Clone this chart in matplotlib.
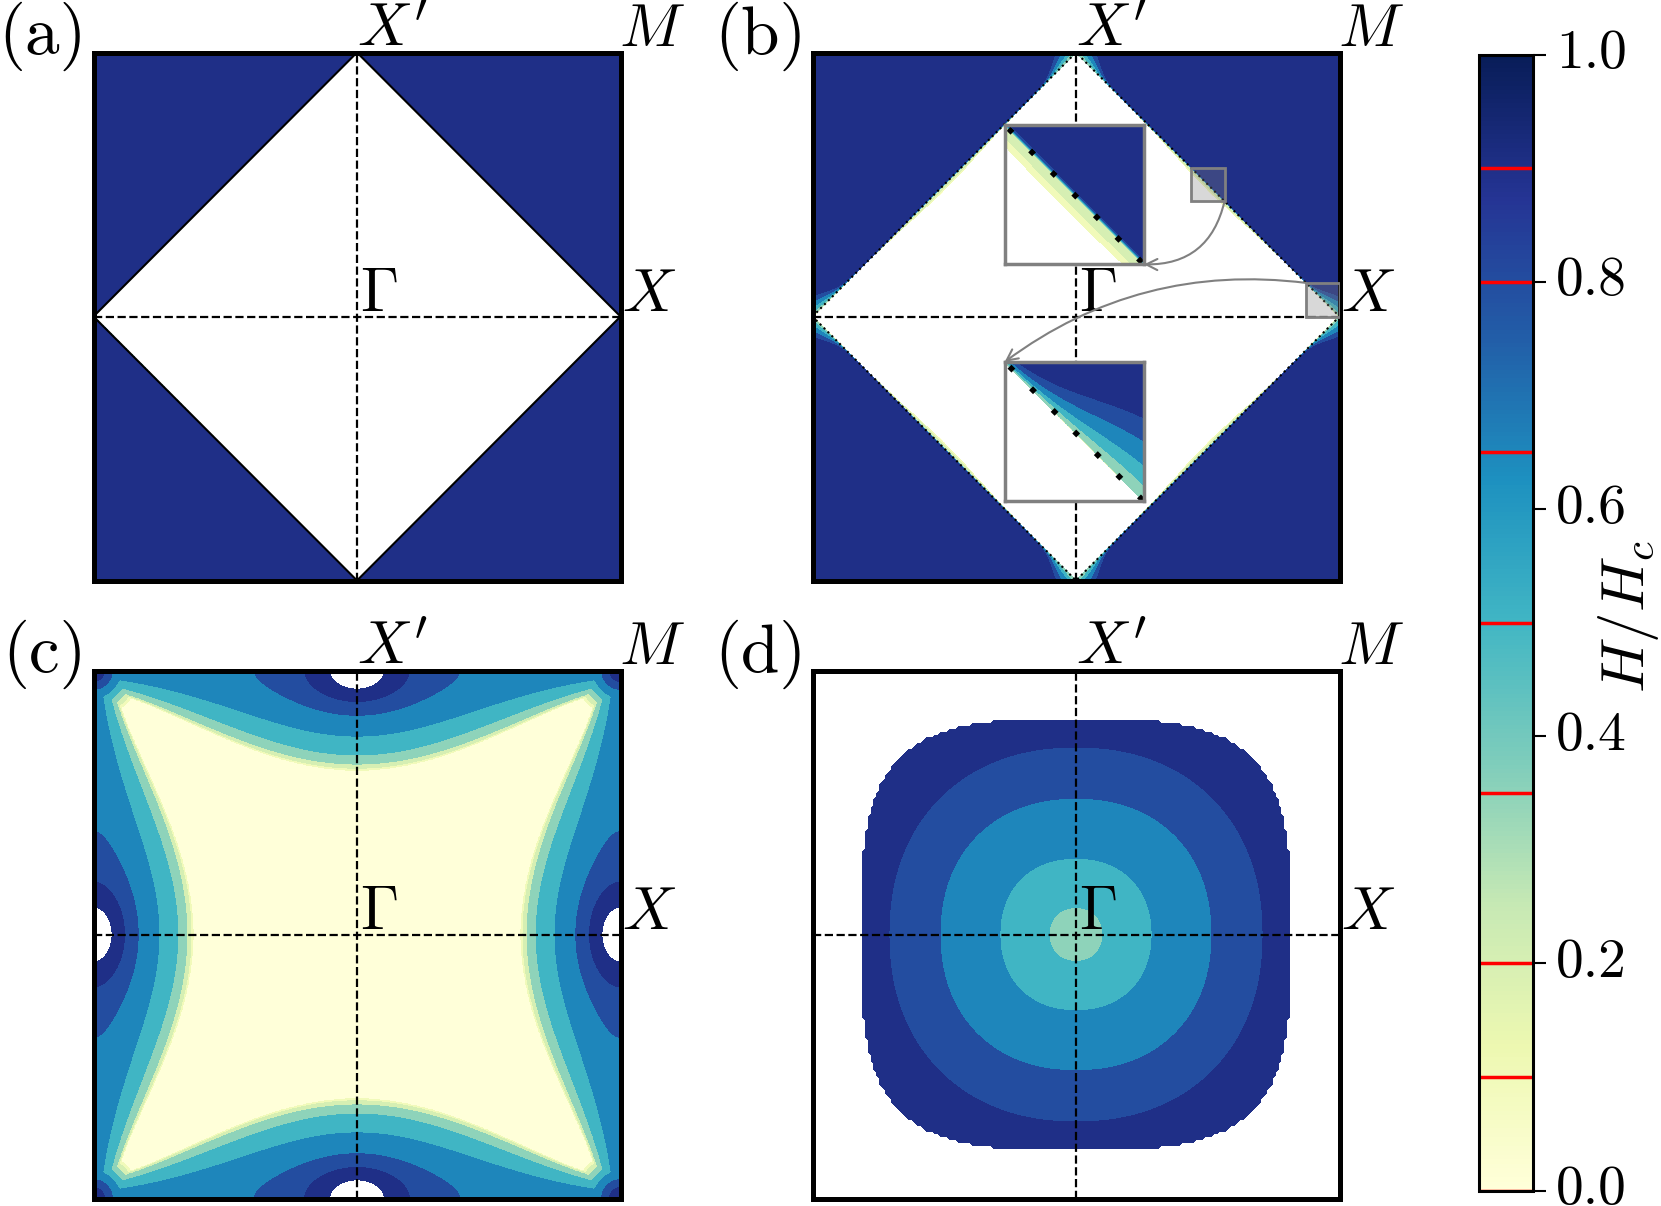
import numpy as np
import matplotlib
matplotlib.use('Agg')
import matplotlib.pyplot as plt
from matplotlib.patches import Rectangle
from matplotlib.colors import Normalize
from matplotlib.cm import ScalarMappable

plt.rcParams['font.family'] = 'serif'
plt.rcParams['font.serif'] = ['cmr10']
plt.rcParams['mathtext.fontset'] = 'cm'
plt.rcParams['axes.unicode_minus'] = False

pi = np.pi

# contour levels of H/Hc (red lines on the colorbar)
levels = [0.0, 0.1, 0.2, 0.35, 0.5, 0.65, 0.8, 0.9, 1.0]
cbar_ticks = [0.0, 0.2, 0.4, 0.6, 0.8, 1.0]
cbar_ticklabels = ['0.0', '0.2', '0.4', '0.6', '0.8', '1.0']
panel_names = ['(a)', '(b)', '(c)', '(d)']
point_names = [r'$X^\prime$', r'$M$', r'$X$', r'$\Gamma$']
point_kx = [0.0, pi, pi, 0.0]
point_ky = [pi, pi, 0.0, 0.0]

# (a): flat value outside the diamond |kx|+|ky| = pi
a_outer = 0.95

# (b): same, with thin crossover near the diamond edge
b_outer = 0.95
b_drop = 0.6
b_wout = [0.006, 0.16, 0.1]
b_in = [0.34, 0.24, 0.1]
b_win = [0.065, 2.22, 0.8]
inset_view = [[pi / 2 - 0.2, pi / 2 + 0.2, pi / 2 - 0.2, pi / 2 + 0.2],
              [pi - 0.4, pi, 0.0, 0.4]]
inset_box = [[-0.85, 0.62, 1.66, 1.66],
             [-0.85, -2.20, 1.66, 1.66]]

# (c): high near X points, flat low centre
c_A = [0.70, 0.10, 2.0]        # edge level along the zone boundary
c_D = [0.2, 0.97, 0.7]         # depth of the low plateau edge
c_F = [0.55, 1.02, 0.1]        # curvature, cutoff, cutoff width
c_B = [0.40, 0.48, 0.36]       # peak at X: height, width along edge, depth
c_q = 6
c_M = [0.97, 0.2, 2.5]         # small peak at M

# (d): bowl around Gamma, masked outside a rounded square
d_coef = [0.408, 0.2987, -0.035]
d_n = 2.2
d_mask_r = 2.58
d_mask_n = 3.4

cmap = plt.get_cmap('YlGnBu')
band_colors = [cmap(l) for l in levels[:-1]]


def field_a(KX, KY):
    d = np.abs(KX) + np.abs(KY) - pi
    return np.where(d > 0, a_outer, -1.0)


def field_b(KX, KY):
    d = np.abs(KX) + np.abs(KY) - pi
    rx2 = np.minimum((pi - np.abs(KX))**2 + KY**2, KX**2 + (pi - np.abs(KY))**2)
    rx = np.sqrt(rx2)
    w_out = b_wout[0] + b_wout[1] * np.exp(-rx2 / b_wout[2])
    w_in = b_win[0] * np.exp(-((rx - b_win[1]) / b_win[2])**2) + 1e-4
    out = b_outer - b_drop * np.exp(-np.clip(d, 0, None) / w_out)
    inn = b_in[0] - b_in[1] * np.clip(-d, 0, None) / w_in
    inn = np.where(inn < b_in[2], -1.0, inn)
    return np.where(d > 0, out, inn)


def c_depth(k):
    return c_D[0] + c_D[1] * ((1 + np.cos(k)) / 2)**c_D[2]


def c_level(k):
    return c_A[0] + c_A[1] * np.exp(-(k / c_A[2])**2)


def c_peak(k, delta):
    return c_B[0] * np.exp(-np.sqrt((k / c_B[1])**2 + (delta / c_B[2])**2))


def field_c(KX, KY):
    d1 = pi - np.abs(KY)
    d2 = pi - np.abs(KX)
    r1 = d1 / c_depth(KX) + 1e-9
    r2 = d2 / c_depth(KY) + 1e-9
    w1 = r1**(-c_q)
    w2 = r2**(-c_q)
    rho = (w1 + w2)**(-1.0 / c_q)
    A = (c_level(KX) * w1 + c_level(KY) * w2) / (w1 + w2)
    F = (1 - c_F[0] * rho**2) * np.sqrt(np.clip((c_F[1] - rho) / c_F[2], 0, 1))
    z = A * F + c_peak(KX, d1) + c_peak(KY, d2)
    rm = np.sqrt(d1**2 + d2**2)
    zm = c_M[0] - c_M[1] * rm - c_M[2] * rm**2
    return np.clip(np.maximum(z, zm), 0, None)


def field_d(KX, KY):
    r = (np.abs(KX)**d_n + np.abs(KY)**d_n)**(1 / d_n)
    z = d_coef[0] + d_coef[1] * r + d_coef[2] * r**2
    outside = (np.abs(KX) / d_mask_r)**d_mask_n + (np.abs(KY) / d_mask_r)**d_mask_n > 1
    return np.where(outside, np.nan, z)


fig = plt.figure(figsize=(16.61, 12.06), dpi=100)
W, Hf = 1661.0, 1206.0
boxes = [(93.5, 52.5), (812.5, 52.5), (93.5, 670.5), (812.5, 670.5)]
fields = [field_a, field_b, field_c, field_d]
npts = [601, 801, 241, 181]
offs = [(0, -4), (-1, -4), (1, -5), (2, -5)]

axes = []
for i in range(4):
    x0, y0 = boxes[i]
    ax = fig.add_axes([x0 / W, 1 - (y0 + 528) / Hf, 527 / W, 528 / Hf])
    k = np.linspace(-pi, pi, npts[i])
    KX, KY = np.meshgrid(k, k)
    ax.contourf(KX, KY, fields[i](KX, KY), levels=levels, colors=band_colors)
    ax.axhline(0, color='k', ls='--', lw=1.6)
    ax.axvline(0, color='k', ls='--', lw=1.6)
    ax.set_xlim(-pi, pi)
    ax.set_ylim(-pi, pi)
    ax.set_xticks([])
    ax.set_yticks([])
    for s in ax.spines.values():
        s.set_linewidth(3.6)
    ax.text(-0.012, 1.03, panel_names[i], transform=ax.transAxes,
            ha='right', va='center', fontsize=50)
    for name, px, py, off in zip(point_names, point_kx, point_ky, offs):
        ax.annotate(name, xy=(px, py), xytext=off, textcoords='offset points',
                    ha='left', va='bottom', fontsize=44, annotation_clip=False)
    axes.append(ax)

dia_x = [-pi, 0, pi, 0, -pi]
dia_y = [0, pi, 0, -pi, 0]
axes[0].plot(dia_x, dia_y, color='k', lw=1.5)
axb = axes[1]
axb.plot(dia_x, dia_y, color='k', ls=':', lw=1.5)

# zoom insets in (b)
for view, box in zip(inset_view, inset_box):
    ins = axb.inset_axes(box, transform=axb.transData)
    kx = np.linspace(view[0], view[1], 300)
    ky = np.linspace(view[2], view[3], 300)
    KX, KY = np.meshgrid(kx, ky)
    ins.contourf(KX, KY, field_b(KX, KY), levels=levels, colors=band_colors)
    ins.plot(dia_x, dia_y, color='k', ls=(0, (1, 4.5)), lw=4)
    ins.set_xlim(view[0], view[1])
    ins.set_ylim(view[2], view[3])
    ins.set_xticks([])
    ins.set_yticks([])
    for s in ins.spines.values():
        s.set_linewidth(2.5)
        s.set_edgecolor('gray')
    axb.add_patch(Rectangle((view[0], view[2]), view[1] - view[0], view[3] - view[2],
                            facecolor=(0.5, 0.5, 0.5, 0.3), edgecolor='gray', lw=2, zorder=3))

v, b = inset_view[0], inset_box[0]
axb.annotate('', xy=(b[0] + b[2], b[1]), xytext=(v[1], v[2]),
             arrowprops=dict(arrowstyle='->', color='gray', lw=1.5, mutation_scale=20,
                             shrinkA=0, shrinkB=0, connectionstyle='arc3,rad=-0.4'),
             zorder=6)
v, b = inset_view[1], inset_box[1]
axb.annotate('', xy=(b[0], b[1] + b[3]), xytext=(v[0], v[3]),
             arrowprops=dict(arrowstyle='->', color='gray', lw=1.5, mutation_scale=20,
                             shrinkA=0, shrinkB=0, connectionstyle='arc3,rad=0.2'),
             zorder=6)

# colorbar
cax = fig.add_axes([1478.5 / W, 1 - 1190.5 / Hf, 54 / W, 1136 / Hf])
cb = fig.colorbar(ScalarMappable(norm=Normalize(0, 1), cmap=cmap), cax=cax)
cb.outline.set_linewidth(2.2)
cb.set_ticks(cbar_ticks)
cb.set_ticklabels(cbar_ticklabels)
cax.tick_params(length=9, width=1.5, labelsize=40, pad=8)
for lbl in cax.get_yticklabels():
    lbl.set_va('center')
for l in levels[:-1]:
    cax.axhline(l, color='red', lw=2.5)
cax.text(2.78, 0.505, r'$H/H_c$', rotation=90, ha='center', va='center',
         transform=cax.transAxes, fontsize=44)

fig.savefig('out.png', dpi=100)
